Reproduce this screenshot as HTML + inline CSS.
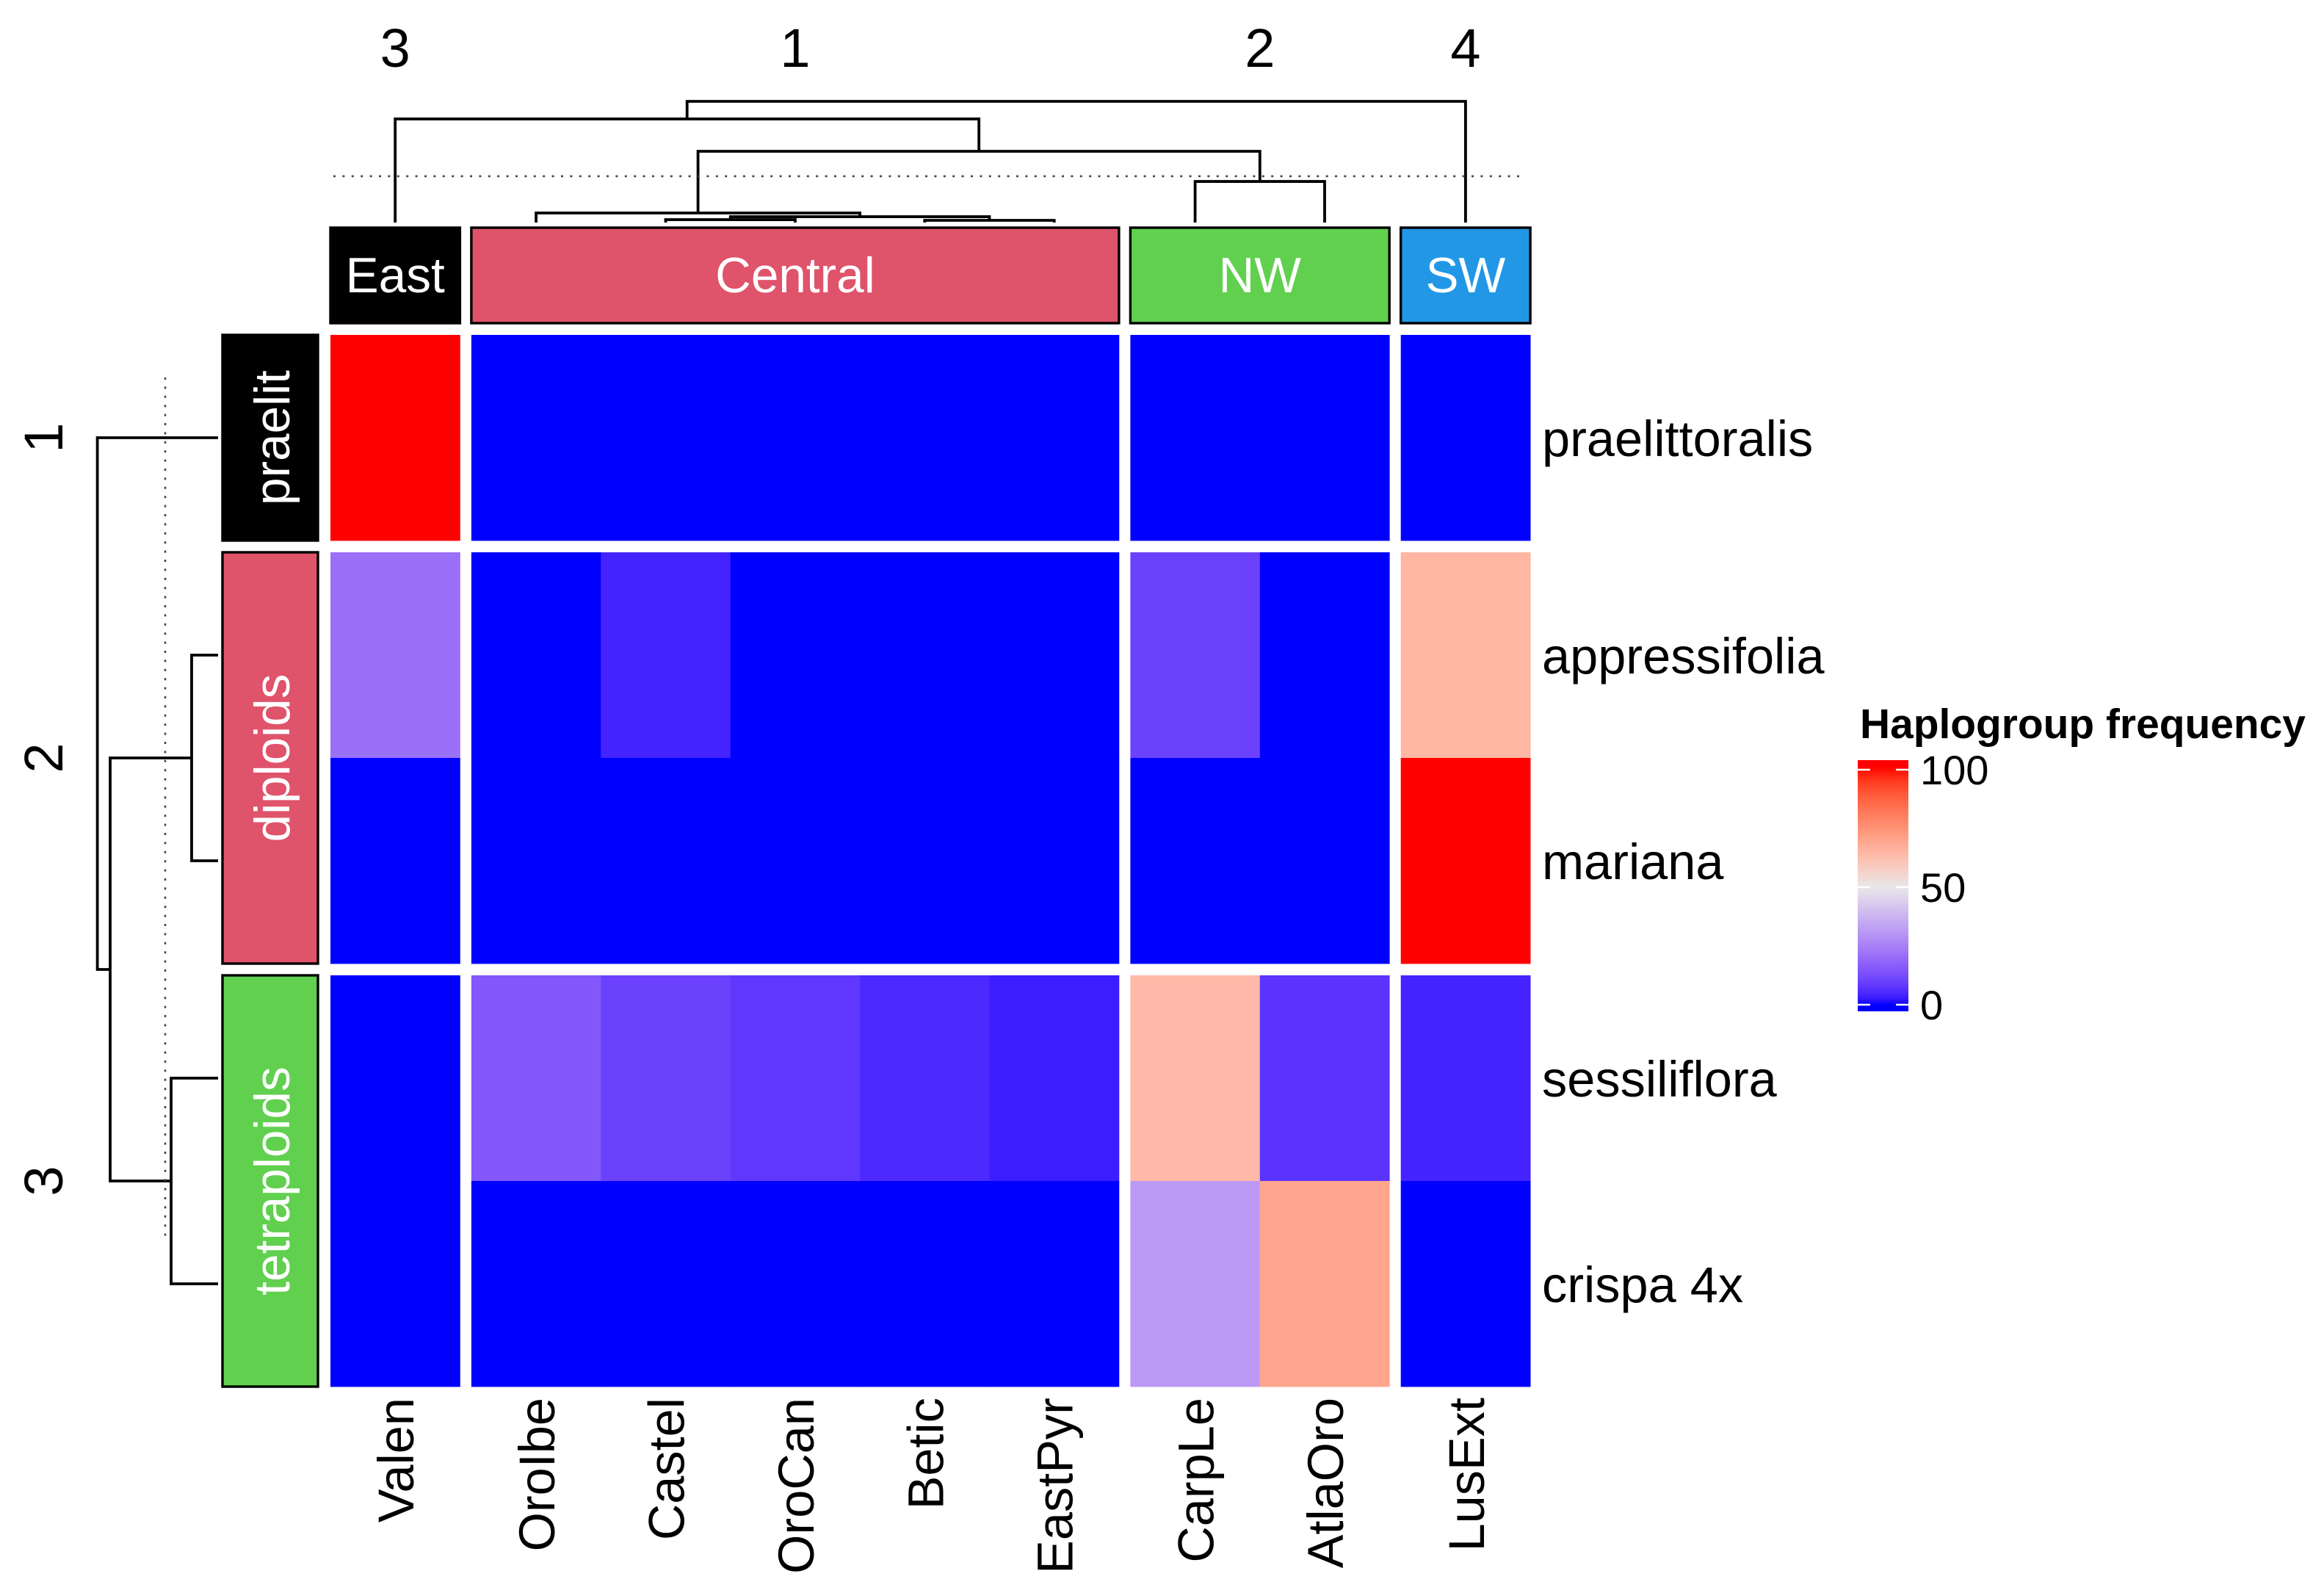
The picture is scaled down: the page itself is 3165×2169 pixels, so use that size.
<!DOCTYPE html>
<html>
<head>
<meta charset="utf-8">
<title>Haplogroup frequency heatmap</title>
<style>
html,body{margin:0;padding:0;background:#fff;}
svg{display:block;font-family:"Liberation Sans",Arial,sans-serif;}
</style>
</head>
<body>
<svg id="chart" xmlns="http://www.w3.org/2000/svg" width="3165" height="2169" viewBox="0 0 3165 2169">
  <rect x="0" y="0" width="3165" height="2169" fill="#ffffff"/>
  <defs><linearGradient id="legendGradient" x1="0" y1="1" x2="0" y2="0"></linearGradient></defs>
</svg>
<script>
// ---- Data -----------------------------------------------------------------
const columnLabels = ['Valen','OroIbe','Castel','OroCan','Betic','EastPyr','CarpLe','AtlaOro','LusExt'];
const rowLabels = ['praelittoralis','appressifolia','mariana','sessiliflora','crispa 4x'];
const columnGroupNames = ['East','Central','NW','SW'];
const columnGroupSizes = [1,5,2,1];
const columnGroupNumbers = ['3','1','2','4'];
const columnGroupColors = ['#000000','#DF536B','#61D04F','#2297E6'];
const rowGroupNames = ['praelit','diploids','tetraploids'];
const rowGroupSizes = [1,2,2];
const rowGroupNumbers = ['1','2','3'];
const rowGroupColors = ['#000000','#DF536B','#61D04F'];
const rowPraelittoralis = [100,0,0,0,0,0,0,0,0];
const rowAppressifolia  = [21,0,4,0,0,0,10,0,65];
const rowMariana        = [0,0,0,0,0,0,0,0,100];
const rowSessiliflora   = [0,15,10,8,5,3,64,7,4];
const rowCrispa         = [0,0,0,0,0,0,31,70,0];
const heatmapValues = [rowPraelittoralis,rowAppressifolia,rowMariana,rowSessiliflora,rowCrispa];
const legendTicks = [0,50,100];
const legendLabels = ['0','50','100'];
// Dendrogram merges: [left, right, height]; negative = leaf number (1-based), positive = earlier merge (1-based)
const columnMerges = [[-3,-4,2.4],[-5,-6,1.8],[1,2,4.8],[-2,3,7.9],[-7,-8,33.9],[4,5,58.8],[-1,6,85.5],[7,-9,100]];
const rowMerges = [[-2,-3,21.9],[-4,-5,38.9],[1,2,89.4],[-1,3,100]];
const columnCutHeight = 38.2;
const rowCutHeight = 43.8;

// ---- Layout / axes --------------------------------------------------------
const svg = document.getElementById('chart');
const NS = 'http://www.w3.org/2000/svg';
const plotX = 450, plotY = 456, cellW = 176.4, cellH = 280, gapX = 15.5, gapY = 16;

function add(tag, attrs, text) {
  const el = document.createElementNS(NS, tag);
  for (const k in attrs) el.setAttribute(k, attrs[k]);
  if (text !== undefined) el.textContent = text;
  svg.appendChild(el);
  return el;
}
function groupIndexOf(sizes, i) {
  let acc = 0;
  for (let g = 0; g < sizes.length; g++) { acc += sizes[g]; if (i < acc) return g; }
  return sizes.length - 1;
}
function xAt(i) { return plotX + i * cellW + groupIndexOf(columnGroupSizes, i) * gapX; }
function yAt(i) { return plotY + i * cellH + groupIndexOf(rowGroupSizes, i) * gapY; }
function colDendroY(h) { return 303 - h * 1.65; }
function rowDendroX(h) { return 297 - h * 1.644; }
function legendY(v) { return 1368 - v * 3.2; }

// ---- Colour ramp (LAB interpolation blue -> light grey -> red) -------------
function srgb2lab(c) {
  const l = c.map(v => { v /= 255; return v > 0.04045 ? Math.pow((v + 0.055) / 1.055, 2.4) : v / 12.92; });
  const X = (l[0]*0.4124+l[1]*0.3576+l[2]*0.1805)/0.95047, Y = l[0]*0.2126+l[1]*0.7152+l[2]*0.0722, Z = (l[0]*0.0193+l[1]*0.1192+l[2]*0.9505)/1.08883;
  const f = t => t > 0.008856 ? Math.cbrt(t) : 7.787*t + 16/116;
  return [116*f(Y)-16, 500*(f(X)-f(Y)), 200*(f(Y)-f(Z))];
}
function lab2hex(L) {
  const fy = (L[0]+16)/116, fx = L[1]/500+fy, fz = fy-L[2]/200;
  const g = t => t*t*t > 0.008856 ? t*t*t : (t-16/116)/7.787;
  const X = g(fx)*0.95047, Y = g(fy), Z = g(fz)*1.08883;
  const r = [3.2406*X-1.5372*Y-0.4986*Z, -0.9689*X+1.8758*Y+0.0415*Z, 0.0557*X-0.2040*Y+1.0570*Z];
  return '#' + r.map(v => {
    v = Math.max(0, Math.min(1, v));
    v = v > 0.0031308 ? 1.055*Math.pow(v,1/2.4)-0.055 : 12.92*v;
    return Math.round(v*255).toString(16).padStart(2,'0');
  }).join('');
}
const labLow = srgb2lab([0,0,255]), labMid = srgb2lab([232,232,232]), labHigh = srgb2lab([255,0,0]);
function colorScale(v) {
  v = Math.max(0, Math.min(100, v));
  const a = v <= 50 ? labLow : labMid, b = v <= 50 ? labMid : labHigh, t = v <= 50 ? v/50 : (v-50)/50;
  return lab2hex([0,1,2].map(i => a[i] + (b[i]-a[i])*t));
}

const FS = 68.5;
const ANNOT_FS = 67.5;
let el;

// ---- Heatmap cells --------------------------------------------------------
heatmapValues.forEach((row, r) => {
  row.forEach((v, c) => {
    el = add('rect', {x: xAt(c), y: yAt(r), width: cellW + 0.4, height: cellH + 0.4, fill: colorScale(v)});
    
    
  });
});

// ---- Column annotation, group numbers --------------------------------------
(function () {
  let start = 0;
  columnGroupNames.forEach((name, g) => {
    const end = start + columnGroupSizes[g] - 1;
    const x0 = xAt(start), x1 = xAt(end) + cellW, cx = (x0 + x1) / 2;
    el = add('rect', {x: x0, y: 310, width: x1 - x0, height: 130, fill: columnGroupColors[g], stroke: '#000', 'stroke-width': 3.4});
    
    
    el = add('text', {x: cx, y: 398, 'text-anchor': 'middle', 'font-size': ANNOT_FS, fill: '#fff'}, name);
    
    
    el = add('text', {x: cx, y: 91, 'text-anchor': 'middle', 'font-size': 74, fill: '#000'}, columnGroupNumbers[g]);
    
    
    start = end + 1;
  });
})();

// ---- Row annotation, group numbers -----------------------------------------
(function () {
  let start = 0;
  rowGroupNames.forEach((name, g) => {
    const end = start + rowGroupSizes[g] - 1;
    const y0 = yAt(start), y1 = yAt(end) + cellH, cy = (y0 + y1) / 2;
    el = add('rect', {x: 303, y: y0, width: 130, height: y1 - y0, fill: rowGroupColors[g], stroke: '#000', 'stroke-width': 3.4});
    
    
    el = add('text', {x: 394, y: cy, 'text-anchor': 'middle', 'font-size': ANNOT_FS, fill: '#fff', transform: 'rotate(-90 394 ' + cy + ')'}, name);
    
    
    el = add('text', {x: 85, y: cy, 'text-anchor': 'middle', 'font-size': 74, fill: '#000', transform: 'rotate(-90 85 ' + cy + ')'}, rowGroupNumbers[g]);
    
    
    start = end + 1;
  });
})();

// ---- Tick labels ------------------------------------------------------------
columnLabels.forEach((lab, c) => {
  const bx = xAt(c) + cellW / 2 + 25;
  el = add('text', {x: bx, y: 1903, 'text-anchor': 'end', 'font-size': FS, fill: '#000', transform: 'rotate(-90 ' + bx + ' 1903)'}, lab);
  
  
});
rowLabels.forEach((lab, r) => {
  el = add('text', {x: 2100, y: yAt(r) + cellH / 2 + 25, 'font-size': FS, fill: '#000'}, lab);
  
  
});

// ---- Dendrograms -----------------------------------------------------------
function drawColumnDendrogram() {
  const nodes = [];
  const pos = id => id < 0 ? {x: xAt(-id - 1) + cellW / 2, y: colDendroY(0)} : nodes[id - 1];
  columnMerges.forEach((m, i) => {
    const a = pos(m[0]), b = pos(m[1]), y = colDendroY(m[2]);
    const p = add('path', {d: 'M' + a.x + ' ' + a.y + 'V' + y + 'H' + b.x + 'V' + b.y, fill: 'none', stroke: '#000', 'stroke-width': 3.8});
    
    
    nodes.push({x: (a.x + b.x) / 2, y: y});
  });
}
function drawRowDendrogram() {
  const nodes = [];
  const pos = id => id < 0 ? {x: rowDendroX(0), y: yAt(-id - 1) + cellH / 2} : nodes[id - 1];
  rowMerges.forEach((m, i) => {
    const a = pos(m[0]), b = pos(m[1]), x = rowDendroX(m[2]);
    const p = add('path', {d: 'M' + a.x + ' ' + a.y + 'H' + x + 'V' + b.y + 'H' + b.x, fill: 'none', stroke: '#000', 'stroke-width': 3.8});
    
    
    nodes.push({x: x, y: (a.y + b.y) / 2});
  });
}
drawColumnDendrogram();
drawRowDendrogram();

el = add('line', {x1: 454, x2: 2073, y1: colDendroY(columnCutHeight), y2: colDendroY(columnCutHeight), stroke: '#444', 'stroke-width': 2.6, 'stroke-dasharray': '3 9.4'});


el = add('line', {x1: rowDendroX(rowCutHeight), x2: rowDendroX(rowCutHeight), y1: 514, y2: 1683, stroke: '#444', 'stroke-width': 2.6, 'stroke-dasharray': '3 9.4'});



// ---- Legend ----------------------------------------------------------------
(function () {
  const grad = document.getElementById('legendGradient');
  const top = 1035, bottom = 1377;
  for (let i = 0; i <= 40; i++) {
    const offset = i / 40;
    const y = bottom - (bottom - top) * offset;
    const v = (1368 - y) / 3.2;
    const stop = document.createElementNS(NS, 'stop');
    stop.setAttribute('offset', offset);
    stop.setAttribute('stop-color', colorScale(v));
    
    
    grad.appendChild(stop);
  }
  el = add('text', {x: 2533, y: 1005, 'font-size': 56.9, 'font-weight': 'bold', fill: '#000'}, 'Haplogroup frequency');
  
  
  el = add('rect', {x: 2530, y: top, width: 69, height: bottom - top, fill: 'url(#legendGradient)'});
  
  
  legendTicks.forEach((t, i) => {
    const y = legendY(t);
    el = add('line', {x1: 2530, x2: 2547, y1: y, y2: y, stroke: '#fff', 'stroke-width': 2.6});
    
    
    el = add('line', {x1: 2582, x2: 2599, y1: y, y2: y, stroke: '#fff', 'stroke-width': 2.6});
    
    
    el = add('text', {x: 2615, y: y + 20, 'font-size': 56, fill: '#000'}, legendLabels[i]);
    
    
  });
})();
</script>
</body>
</html>
